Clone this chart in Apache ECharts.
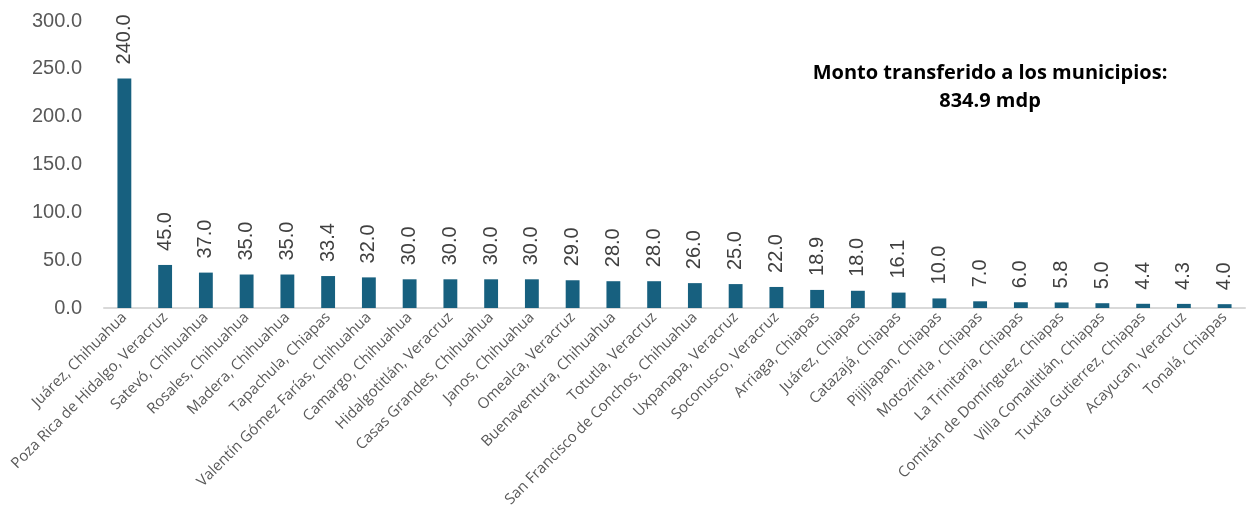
<!DOCTYPE html>
<html>
<head>
<meta charset="utf-8">
<script src="https://cdn.jsdelivr.net/npm/echarts@6/dist/echarts.min.js"></script>
<style>
  html, body { margin: 0; padding: 0; background: #fff; }
  #chart { width: 1247px; height: 521px; }
</style>
</head>
<body>
<div id="chart"></div>
<script>
var municipios = [
  "Juárez, Chihuahua", "Poza Rica de Hidalgo, Veracruz", "Satevó, Chihuahua",
  "Rosales, Chihuahua", "Madera, Chihuahua", "Tapachula, Chiapas",
  "Valentín Gómez Farías, Chihuahua", "Camargo, Chihuahua", "Hidalgotitlán, Veracruz",
  "Casas Grandes, Chihuahua", "Janos, Chihuahua", "Omealca, Veracruz",
  "Buenaventura, Chihuahua", "Totutla, Veracruz", "San Francisco de Conchos, Chihuahua",
  "Uxpanapa, Veracruz", "Soconusco, Veracruz", "Arriaga, Chiapas",
  "Juárez, Chiapas", "Catazajá, Chiapas", "Pijijiapan, Chiapas",
  "Motozintla , Chiapas", "La Trinitaria, Chiapas", "Comitán de Domínguez, Chiapas",
  "Villa Comaltitlán, Chiapas", "Tuxtla Gutierrez, Chiapas", "Acayucan, Veracruz",
  "Tonalá, Chiapas"
];
var montos = [240.0, 45.0, 37.0, 35.0, 35.0, 33.4, 32.0, 30.0, 30.0, 30.0, 30.0, 29.0,
  28.0, 28.0, 26.0, 25.0, 22.0, 18.9, 18.0, 16.1, 10.0, 7.0, 6.0, 5.8, 5.0, 4.4, 4.3, 4.0];
var yTicks = [0, 50, 100, 150, 200, 250, 300];
var titulo = "Monto transferido a los municipios:\n834.9 mdp";

var myChart = echarts.init(document.getElementById("chart"));
var option = {
  animation: false,
  title: {
    text: titulo,
    left: 985,
    top: 54,
    textAlign: "center",
    textStyle: {
      color: "#000",
      fontWeight: "bold",
      fontSize: 20,
      lineHeight: 28,
      fontFamily: "Open Sans"
    }
  },
  grid: {
    left: 104,
    right: 2,
    top: 21,
    bottom: 213,
    containLabel: false
  },
  xAxis: [{
    type: "category",
    data: municipios,
    axisTick: { show: false },
    axisLine: { lineStyle: { color: "#d9d9d9", width: 2 } },
    axisLabel: {
      interval: 0,
      rotate: 45,
      color: "#595959",
      fontSize: 15,
      fontFamily: "Open Sans",
      margin: 7
    }
  }],
  yAxis: [{
    type: "value",
    min: yTicks[0],
    max: yTicks[yTicks.length - 1],
    interval: 50,
    axisLine: { show: false },
    axisTick: { show: false },
    splitLine: { show: false },
    axisLabel: {
      formatter: function (v) { return v.toFixed(1); },
      color: "#595959",
      fontSize: 20,
      fontFamily: "Liberation Sans",
      margin: 22
    }
  }],
  series: [{
    type: "bar",
    data: montos,
    barWidth: "34%",
    itemStyle: { color: "#17607f" },
    label: {
      show: true,
      position: "top",
      rotate: 90,
      align: "left",
      verticalAlign: "middle",
      distance: 14,
      color: "#404040",
      fontSize: 20,
      fontFamily: "Liberation Sans",
      formatter: function (p) { return p.value.toFixed(1); }
    }
  }]
};
myChart.setOption(option);
</script>
</body>
</html>
